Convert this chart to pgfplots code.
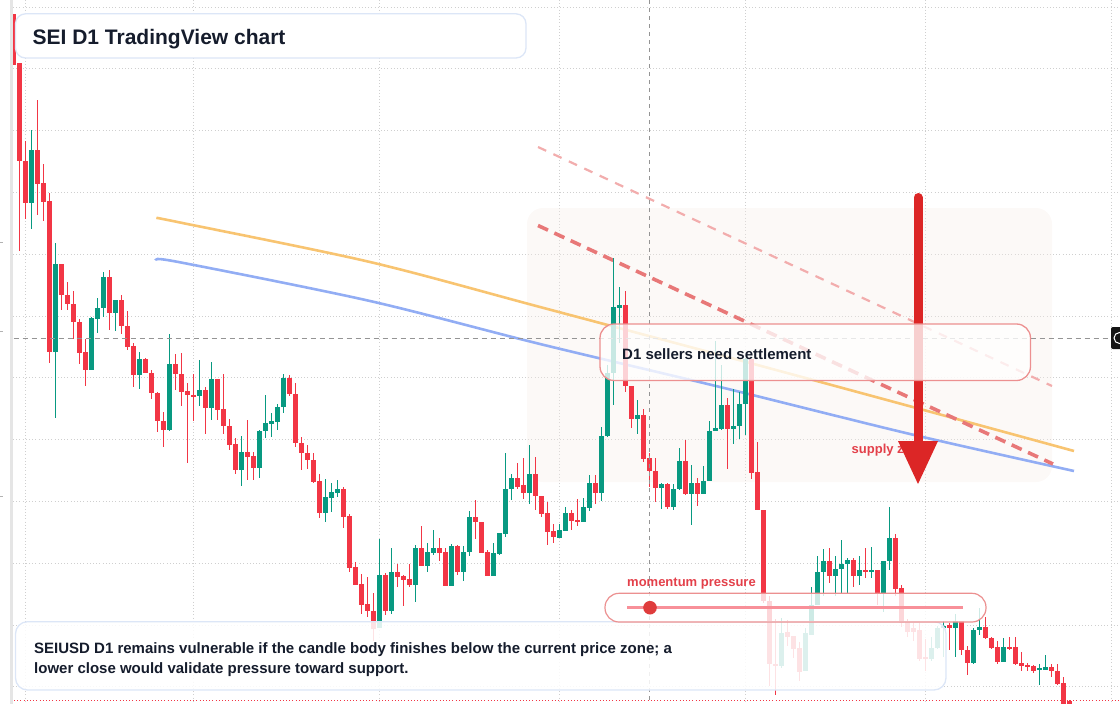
\documentclass[border=0pt]{standalone}
\usepackage{fontspec}
\setmainfont{Liberation Sans}
\usepackage{pgfplots}
\usepackage{pgfplotstable}
\pgfplotsset{compat=1.18}

\definecolor{up}{HTML}{089981}
\definecolor{dn}{HTML}{F23645}
\definecolor{maorange}{HTML}{F8C471}
\definecolor{mablue}{HTML}{92ADF4}
\definecolor{dashdark}{HTML}{E87878}
\definecolor{dashlight}{HTML}{F2ADAD}
\definecolor{boxblue}{HTML}{DCE6F7}
\definecolor{boxred}{HTML}{EC9090}
\definecolor{txt}{HTML}{151C2C}
\definecolor{lbl}{HTML}{E3404A}
\definecolor{arrowred}{HTML}{DC2626}
\definecolor{gridc}{HTML}{CFCFCF}
\definecolor{zone}{HTML}{F7EDE8}

% candles: x (px), body top, body bottom, wick top, wick bottom (screen rows, y grows downward)
\pgfplotstableread{
x bt bb wt wb
13.3 14 65 14 65
19.3 63 161 63 251
25.3 161 203 141 219
37.3 150 184 100 215
43.3 183 202 164 221
49.3 201 352 193 363
61.3 264 295 264 310
67.3 295 304 282 310
73.3 304 322 291 339
79.3 322 353 319 364
85.3 352 370 339 386
109.3 277 313 270 330
121.3 300 326 295 334
127.3 326 347 311 350
133.3 346 375 343 387
145.3 359 373 358 373
151.3 373 393 370 399
157.3 393 421 392 432
163.3 421 430 412 447
175.3 364 374 354 390
181.3 374 392 353 406
187.3 391 395 383 463
193.3 395 397 374 421
205.3 390 408 387 434
217.3 379 410 379 420
223.3 409 426 374 434
229.3 426 445 419 450
235.3 444 470 438 474
247.3 452 457 420 480
253.3 456 468 452 480
289.3 378 394 375 396
295.3 394 443 383 447
301.3 443 453 437 470
307.3 453 460 445 469
313.3 460 482 453 483
319.3 481 513 474 518
343.3 489 517 487 528
349.3 516 568 514 572
355.3 567 585 562 585
361.3 584 605 574 614
367.3 604 611 577 617
373.3 611 629 593 641
385.3 575 611 573 615
397.3 572 577 564 587
403.3 576 580 575 606
409.3 579 585 564 587
421.3 548 566 526 566
439.3 548 553 538 561
445.3 552 586 548 586
457.3 546 572 545 575
475.3 517 522 500 539
481.3 522 553 522 553
487.3 552 576 550 576
517.3 478 487 463 489
523.3 485 493 458 499
535.3 474 496 457 510
541.3 496 514 496 517
547.3 513 532 502 545
553.3 531 537 524 543
571.3 513 521 510 530
577.3 520 522 499 526
595.3 483 493 475 504
625.3 305 386 291 392
631.3 386 419 386 428
643.3 415 459 409 462
649.3 458 471 453 487
655.3 471 488 458 502
667.3 484 507 483 509
685.3 461 494 440 495
697.3 483 494 478 506
727.3 405 429 398 469
751.3 359 473 359 479
757.3 472 510 442 510
763.3 510 601 510 603
769.3 601 664 596 686
775.3 664 666 619 695
787.3 632 637 620 646
793.3 636 649 636 658
799.3 648 672 642 681
829.3 561 576 548 583
853.3 560 576 558 587
865.3 570 571.5 548 578
877.3 570 593 570 605
895.3 538 589 534 596
901.3 588 623 585 627
907.3 621 632 619 637
913.3 628 632 623 641
919.3 630 659 623 661
925.3 657 659 639 671
949.3 625 628 623 650
961.3 621 650 621 655
967.3 650 663 646 675
985.3 627 638 617 639
991.3 638 648 637 649
997.3 647 662 641 664
1009.3 647 648.5 637 650
1015.3 647 664 637 665
1021.3 663 666 652 671
1027.3 665 666.5 663 671
1033.3 666 671 665 673
1051.3 667 671 664 677
1057.3 671 684 664 685
1063.3 683 706 677 706
1069.3 701 706 700 706
}\reds

\pgfplotstableread{
x bt bb wt wb
31.3 150 203 130 229
55.3 264 352 243 418
91.3 318 370 317 370
97.3 308 319 298 333
103.3 277 308 272 317
115.3 300 313 300 331
139.3 359 375 352 389
169.3 364 430 334 431
199.3 390 396 360 406
211.3 379 408 362 420
241.3 452 470 436 486
259.3 431 468 430 478
265.3 423 431 395 438
271.3 421 424 413 437
277.3 407 422 404 430
283.3 378 407 374 413
325.3 497 513 479 522
331.3 492 498 483 512
337.3 489 493 480 497
379.3 575 628 539 628
391.3 572 611 548 614
415.3 548 585 545 602
427.3 552 566 543 572
433.3 548 553 530 555
451.3 546 586 544 586
463.3 552 572 546 581
469.3 517 552 511 556
493.3 553 576 543 576
499.3 533 554 533 555
505.3 489 534 453 537
511.3 478 489 474 500
529.3 474 493 445 504
559.3 530 538 524 538
565.3 513 531 507 531
583.3 507 522 498 522
589.3 483 508 475 511
601.3 436 493 427 501
607.3 373 436 365 437
613.3 307 373 258 405
619.3 305 308 287 343
637.3 415 419 400 434
661.3 484 488 483 509
673.3 489 507 484 510
679.3 461 489 448 490
691.3 483 494 465 525
703.3 481 494 466 494
709.3 431 481 421 481
715.3 428 431 341 431
721.3 405 429 365 430
733.3 426 429 389 444
739.3 404 426 392 439
745.3 359 404 358 435
781.3 633 666 618 668
805.3 633 671 628 671
811.3 605 635 587 635
817.3 572 605 556 605
823.3 561 572 549 596
835.3 569 576 556 596
841.3 564 569 540 594
847.3 560 564 558 594
859.3 570 576 556 585
871.3 570 571.5 547 578
883.3 561 593 561 612
889.3 538 561 507 570
931.3 648 659 637 661
937.3 628 648 626 649
943.3 626 628 621 657
955.3 621 628 614 657
973.3 630 663 628 664
979.3 627 630 608 635
1003.3 647 662 638 662
1039.3 668 670 664 685
1045.3 667 670 655 670
}\greens

\pgfplotsset{
  wick/.style={draw=none, mark=none, forget plot,
    error bars/.cd, y dir=plus, y explicit, error mark=none,
    error bar style={draw=#1, line width=1pt}},
  body/.style={draw=none, mark=none, forget plot,
    error bars/.cd, y dir=plus, y explicit, error mark=none,
    error bar style={draw=#1, line width=4.6pt}},
}
\tikzset{hgrid/.style={draw=gridc, line width=0.8pt, dash pattern=on 1pt off 2.2pt}}

\begin{document}
\begin{tikzpicture}
\begin{axis}[
  at={(0,0)}, anchor=south west,
  scale only axis, width=1120pt, height=704pt,
  xmin=0, xmax=1120, ymin=0, ymax=704, y dir=reverse,
  axis line style={draw=none}, tick style={draw=none},
  xtick=\empty, ytick=\empty,
  clip=true,
]
% dotted grid
\draw[hgrid] (axis cs:25,0) -- (axis cs:25,704);
\draw[hgrid] (axis cs:193.5,0) -- (axis cs:193.5,704);
\draw[hgrid] (axis cs:379.5,0) -- (axis cs:379.5,704);
\draw[hgrid] (axis cs:559.5,0) -- (axis cs:559.5,704);
\draw[hgrid] (axis cs:745,0) -- (axis cs:745,704);
\draw[hgrid] (axis cs:925,0) -- (axis cs:925,704);
\draw[hgrid] (axis cs:1111.5,0) -- (axis cs:1111.5,704);
\draw[hgrid] (axis cs:13,7) -- (axis cs:1120,7);
\draw[hgrid] (axis cs:13,68.8) -- (axis cs:1120,68.8);
\draw[hgrid] (axis cs:13,130.6) -- (axis cs:1120,130.6);
\draw[hgrid] (axis cs:13,192.4) -- (axis cs:1120,192.4);
\draw[hgrid] (axis cs:13,254.2) -- (axis cs:1120,254.2);
\draw[hgrid] (axis cs:13,316) -- (axis cs:1120,316);
\draw[hgrid] (axis cs:13,377.8) -- (axis cs:1120,377.8);
\draw[hgrid] (axis cs:13,439.6) -- (axis cs:1120,439.6);
\draw[hgrid] (axis cs:13,501.4) -- (axis cs:1120,501.4);
\draw[hgrid] (axis cs:13,563.2) -- (axis cs:1120,563.2);
\draw[hgrid] (axis cs:13,625) -- (axis cs:1120,625);
\draw[hgrid] (axis cs:13,686.8) -- (axis cs:1120,686.8);

% shaded supply zone
\fill[zone, fill opacity=0.35, rounded corners=16pt] (axis cs:527,208) rectangle (axis cs:1052,482);

% moving averages
\addplot[maorange, line width=2.6pt, smooth, forget plot] coordinates {
 (157,218) (180,222.5) (370,262) (540,307) (750,363) (920,409) (1074,451)};
\addplot[mablue, line width=2.6pt, smooth, forget plot] coordinates {
 (157,260) (180,262.3) (370,301) (540,344) (720,387) (910,434) (1074,471)};

% descending dashed trend lines
\addplot[dashlight, line width=2.2pt, dash pattern=on 9pt off 8pt, forget plot] coordinates {(538,147) (1052,386)};
\addplot[dashdark, line width=3.6pt, dash pattern=on 11pt off 7pt, forget plot] coordinates {(538,225.5) (1053,464)};

% candles
\addplot[wick=dn] table[x=x, y=wt, y error plus expr=\thisrow{wb}-\thisrow{wt}] {\reds};
\addplot[body=dn] table[x=x, y=bt, y error plus expr=\thisrow{bb}-\thisrow{bt}] {\reds};
\addplot[wick=up] table[x=x, y=wt, y error plus expr=\thisrow{wb}-\thisrow{wt}] {\greens};
\addplot[body=up] table[x=x, y=bt, y error plus expr=\thisrow{bb}-\thisrow{bt}] {\greens};

% left strip and stray axis marks
\fill[black!10] (axis cs:9.6,0) rectangle (axis cs:13.4,704);
\draw[black!30, line width=0.8pt] (axis cs:0,242) -- (axis cs:3,242);
\draw[black!30, line width=0.8pt] (axis cs:0,331) -- (axis cs:3,331);
\draw[black!30, line width=0.8pt] (axis cs:0,496) -- (axis cs:3,496);

% crosshair
\draw[black!42, line width=1pt, dash pattern=on 4pt off 4pt] (axis cs:649,0) -- (axis cs:649,704);
\draw[black!42, line width=1pt, dash pattern=on 5pt off 4pt] (axis cs:13.5,338) -- (axis cs:1111,338);

% red dotted bottom line
\draw[dn, line width=1pt, dash pattern=on 1pt off 2.2pt] (axis cs:14,700.7) -- (axis cs:1120,700.7);

% supply zone label and arrow
\node[anchor=base west, inner sep=0pt, text=lbl, font=\bfseries\fontsize{13}{15}\selectfont] at (axis cs:851.5,453) {supply zone};
\draw[arrowred, line width=9pt, line cap=round] (axis cs:918,197.5) -- (axis cs:918,442);
\fill[arrowred] (axis cs:898,441) -- (axis cs:938,441) -- (axis cs:918,484) -- cycle;

% settlement box
\filldraw[draw=boxred, line width=1.3pt, fill=white, fill opacity=0.78, rounded corners=14pt]
  (axis cs:600,324) rectangle (axis cs:1030.5,380.5);
\node[anchor=base west, inner sep=0pt, text=txt, font=\bfseries\fontsize{15}{18}\selectfont] at (axis cs:622,359) {D1 sellers need settlement};

% bottom commentary box
\filldraw[draw=boxblue, line width=1.3pt, fill=white, fill opacity=0.86, rounded corners=12pt]
  (axis cs:15.5,621.7) rectangle (axis cs:946,690);
\node[anchor=base west, inner sep=0pt, text=txt, font=\bfseries\fontsize{15}{18}\selectfont] at (axis cs:34,653.3) {SEIUSD D1 remains vulnerable if the candle body finishes below the current price zone; a};
\node[anchor=base west, inner sep=0pt, text=txt, font=\bfseries\fontsize{15}{18}\selectfont] at (axis cs:34,673.3) {lower close would validate pressure toward support.};

% momentum box
\filldraw[draw=boxred, line width=1.2pt, fill=white, fill opacity=0.8, rounded corners=14pt]
  (axis cs:605,593.3) rectangle (axis cs:986,622);
\draw[dn!55, line width=3pt] (axis cs:627,607.7) -- (axis cs:962.5,607.7);
\fill[arrowred!90] (axis cs:650,607.7) circle[radius=6.8pt];
\node[anchor=base west, inner sep=0pt, text=lbl, font=\bfseries\fontsize{13}{15}\selectfont] at (axis cs:627,586.7) {momentum pressure};

% title box
\filldraw[draw=boxblue, line width=1.3pt, fill=white, rounded corners=10pt]
  (axis cs:15.5,13.8) rectangle (axis cs:526,58);
\node[anchor=base west, inner sep=0pt, text=txt, font=\bfseries\fontsize{21}{25}\selectfont] at (axis cs:32.4,44) {SEI D1 TradingView chart};

% right edge price tag
\fill[black!92, rounded corners=2pt] (axis cs:1111,327) rectangle (axis cs:1124,349);
\draw[white, line width=1pt] (axis cs:1119.5,338) circle[radius=5.5pt];
\end{axis}
\pgfresetboundingbox
\path[use as bounding box] (0,0) rectangle (1120pt,704pt);
\end{tikzpicture}
\end{document}
